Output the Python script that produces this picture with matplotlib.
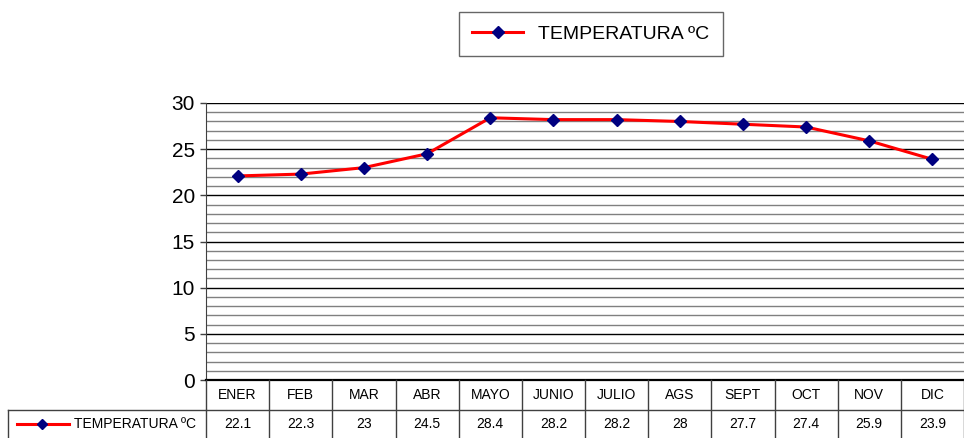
import matplotlib

matplotlib.use("Agg")
import matplotlib.pyplot as plt
from matplotlib.lines import Line2D
from matplotlib.transforms import blended_transform_factory
import numpy as np

# ---- data ---------------------------------------------------------------
MESES = ["ENER", "FEB", "MAR", "ABR", "MAYO", "JUNIO", "JULIO", "AGS",
         "SEPT", "OCT", "NOV", "DIC"]
TEMPERATURA = [22.1, 22.3, 23, 24.5, 28.4, 28.2, 28.2, 28, 27.7, 27.4, 25.9, 23.9]
TEMP_LABELS = ["22.1", "22.3", "23", "24.5", "28.4", "28.2", "28.2", "28",
               "27.7", "27.4", "25.9", "23.9"]
SERIE = "TEMPERATURA ºC"
Y_TICKS = [0, 5, 10, 15, 20, 25, 30]

RED = "#FF0000"
NAVY = "#000080"
TABLE_LINE = "#404040"
W, H = 964, 438

plt.rcParams["font.family"] = ["Liberation Sans", "DejaVu Sans"]

fig = plt.figure(figsize=(W / 100, H / 100), dpi=100)
fig.patch.set_facecolor("white")

# plot area in pixel coordinates of the reference
x0, x1, y_top, y_bot = 206, 964, 103, 380
ax = fig.add_axes([x0 / W, 1 - y_bot / H, (x1 - x0) / W, (y_bot - y_top) / H])

x = np.arange(len(MESES))
ax.plot(x, TEMPERATURA, color=RED, linewidth=2.2, zorder=4,
        marker="D", markersize=6, markerfacecolor=NAVY, markeredgecolor=NAVY)

ax.set_xlim(-0.5, len(MESES) - 0.5)
ax.set_ylim(0, 30)
ax.set_yticks(Y_TICKS)
ax.set_yticks(np.arange(0, 31, 1), minor=True)
ax.tick_params(axis="y", which="major", length=4, width=1, color=TABLE_LINE,
               labelsize=15, pad=4)
ax.tick_params(axis="y", which="minor", length=0)
ax.set_xticks([])
ax.grid(True, which="minor", axis="y", color="#808080", linewidth=1)
ax.grid(True, which="major", axis="y", color="black", linewidth=1)
ax.set_axisbelow(True)
for side in ("top", "right"):
    ax.spines[side].set_visible(False)
ax.spines["left"].set_color(TABLE_LINE)
ax.spines["bottom"].set_color("black")
ax.spines["bottom"].set_linewidth(1.6)

# ---- data table below the plot (x in data units, y in figure fraction) ----
tr = blended_transform_factory(ax.transData, fig.transFigure)
fy = lambda px: 1 - px / H
row_top, row_mid, row_bot = 380, 410, 438
n = len(MESES)


def hline(xa, xb, y, trans):
    fig.add_artist(Line2D([xa, xb], [y, y], color=TABLE_LINE, linewidth=1, transform=trans))


def vline(xv, ya, yb, trans):
    fig.add_artist(Line2D([xv, xv], [ya, yb], color=TABLE_LINE, linewidth=1, transform=trans))


hline(-0.5, n - 0.5, fy(row_mid), tr)
hline(8 / W, x0 / W, fy(row_mid), fig.transFigure)
vline(8 / W, fy(row_mid), 0, fig.transFigure)
for i in range(n + 1):
    vline(i - 0.5, fy(row_top), 0, tr)

for i, (m, v) in enumerate(zip(MESES, TEMP_LABELS)):
    fig.text(i, fy((row_top + row_mid) / 2), m, transform=tr, fontsize=10,
             ha="center", va="center")
    fig.text(i, fy((row_mid + row_bot) / 2), v, transform=tr, fontsize=10,
             ha="center", va="center")

# legend sample inside the row label cell
yl = fy(424)
fig.add_artist(Line2D([17 / W, 69 / W], [yl, yl], color=RED, linewidth=2.2,
                      transform=fig.transFigure))
fig.add_artist(Line2D([42 / W], [yl], marker="D", markersize=5, color=NAVY,
                      transform=fig.transFigure))
fig.text(74 / W, yl, SERIE, fontsize=10, va="center", ha="left")

# top legend
leg = fig.legend(handles=[Line2D([], [], color=RED, linewidth=2.2, marker="D", markersize=6,
                                 markerfacecolor=NAVY, markeredgecolor=NAVY)],
                 labels=[SERIE], loc="center", bbox_to_anchor=(591 / W, 1 - 34 / H),
                 fontsize=14, frameon=True, fancybox=False, edgecolor=TABLE_LINE,
                 handlelength=2.6, borderpad=0.7, borderaxespad=0)
leg.get_frame().set_linewidth(1)

fig.savefig("out.png", dpi=100, facecolor="white")
